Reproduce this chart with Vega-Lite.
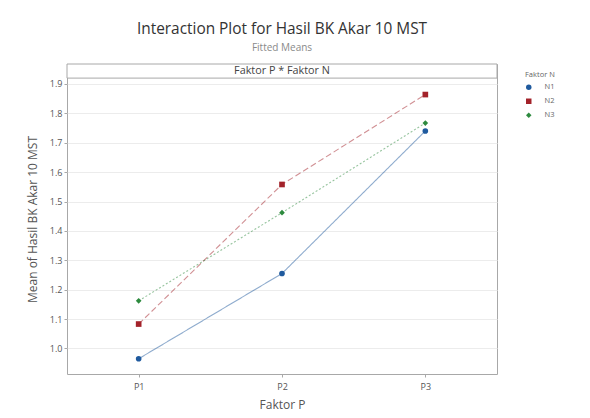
{
  "$schema": "https://vega.github.io/schema/vega-lite/v6.json",
  "autosize": {"type": "none"},
  "padding": {"left": 67, "top": 64, "right": 93, "bottom": 44},
  "width": 430,
  "height": 310,
  "background": "white",
  "title": {
    "text": "Interaction Plot for Hasil BK Akar 10 MST",
    "subtitle": "Fitted Means",
    "font": "Open Sans",
    "fontSize": 15.4,
    "fontWeight": "normal",
    "color": "#333333",
    "subtitleFont": "Open Sans",
    "subtitleFontSize": 10,
    "subtitleColor": "#8a8a8a",
    "subtitlePadding": 5,
    "offset": 11,
    "anchor": "middle",
    "frame": "group"
  },
  "config": {
    "font": "Open Sans",
    "view": {"stroke": "#a8a8a8", "strokeWidth": 1},
    "axis": {
      "gridColor": "#ececec",
      "gridWidth": 1,
      "domain": false,
      "tickColor": "#a8a8a8",
      "tickSize": 3,
      "labelColor": "#555555",
      "labelFontSize": 9,
      "labelOverlap": false,
      "titleColor": "#555555",
      "titleFontSize": 12,
      "titleFontWeight": "normal"
    },
    "legend": {
      "titleFontSize": 7.5,
      "titleFontWeight": "normal",
      "titleColor": "#666666",
      "titlePadding": 5,
      "labelFontSize": 7.5,
      "labelColor": "#666666",
      "labelOffset": 12,
      "rowPadding": 5,
      "symbolOpacity": 1,
      "symbolStrokeWidth": 0
    }
  },
  "layer": [
    {
      "data": {
        "values": [
          {"P": "P1", "N": "N1", "mean": 0.965},
          {"P": "P2", "N": "N1", "mean": 1.255},
          {"P": "P3", "N": "N1", "mean": 1.740},
          {"P": "P1", "N": "N2", "mean": 1.083},
          {"P": "P2", "N": "N2", "mean": 1.558},
          {"P": "P3", "N": "N2", "mean": 1.864},
          {"P": "P1", "N": "N3", "mean": 1.162},
          {"P": "P2", "N": "N3", "mean": 1.462},
          {"P": "P3", "N": "N3", "mean": 1.767}
        ]
      },
      "layer": [
        {
          "mark": {"type": "line", "strokeWidth": 1.1, "opacity": 0.5},
          "encoding": {
            "x": {
              "field": "P", "type": "ordinal",
              "scale": {"type": "point", "padding": 0.5},
              "axis": {"title": "Faktor P", "labelAngle": 0, "labelPadding": 5, "titlePadding": 8}
            },
            "y": {
              "field": "mean", "type": "quantitative",
              "scale": {"domain": [0.913, 1.968], "nice": false, "zero": false},
              "axis": {
                "title": "Mean of Hasil BK Akar 10 MST",
                "values": [1.0, 1.1, 1.2, 1.3, 1.4, 1.5, 1.6, 1.7, 1.8, 1.9],
                "format": ".1f",
                "titlePadding": 10
              }
            },
            "color": {
              "field": "N", "type": "nominal", "title": "Faktor N",
              "scale": {"domain": ["N1", "N2", "N3"], "range": ["#1f5a9e", "#a3222a", "#2d8a3e"]},
              "legend": {"title": "Faktor N", "orient": "none", "legendX": 458, "legendY": 7, "symbolSize": 30}
            },
            "strokeDash": {
              "field": "N", "type": "nominal",
              "scale": {"domain": ["N1", "N2", "N3"], "range": [[1, 0], [6, 3], [2, 2]]},
              "legend": null
            }
          }
        },
        {
          "mark": {"type": "point", "filled": true, "size": 32, "opacity": 1},
          "encoding": {
            "x": {"field": "P", "type": "ordinal"},
            "y": {
              "field": "mean", "type": "quantitative",
              "axis": {
                "title": "Mean of Hasil BK Akar 10 MST",
                "values": [1.0, 1.1, 1.2, 1.3, 1.4, 1.5, 1.6, 1.7, 1.8, 1.9],
                "format": ".1f",
                "titlePadding": 10
              }
            },
            "color": {
              "field": "N", "type": "nominal", "title": "Faktor N",
              "scale": {"domain": ["N1", "N2", "N3"], "range": ["#1f5a9e", "#a3222a", "#2d8a3e"]},
              "legend": {"title": "Faktor N", "orient": "none", "legendX": 458, "legendY": 7, "symbolSize": 30}
            },
            "shape": {
              "field": "N", "type": "nominal", "title": "Faktor N",
              "scale": {"domain": ["N1", "N2", "N3"], "range": ["circle", "square", "diamond"]},
              "legend": {"title": "Faktor N", "orient": "none", "legendX": 458, "legendY": 7, "symbolSize": 30}
            }
          }
        }
      ]
    },
    {
      "data": {"values": [{"label": "Faktor P * Faktor N", "col": "P2", "lo": 1.92, "hi": 1.968, "mid": 1.944}]},
      "layer": [
        {
          "mark": {"type": "rect", "fill": "white", "stroke": "#a8a8a8", "strokeWidth": 1},
          "encoding": {
            "y": {"field": "lo", "type": "quantitative",
              "axis": {
                "title": "Mean of Hasil BK Akar 10 MST",
                "values": [1.0, 1.1, 1.2, 1.3, 1.4, 1.5, 1.6, 1.7, 1.8, 1.9],
                "format": ".1f",
                "titlePadding": 10
              }},
            "y2": {"field": "hi"}
          }
        },
        {
          "mark": {"type": "text", "fontSize": 10.8, "fontWeight": "normal", "color": "#444444", "baseline": "middle"},
          "encoding": {
            "x": {"field": "col", "type": "ordinal"},
            "y": {"field": "mid", "type": "quantitative",
              "axis": {
                "title": "Mean of Hasil BK Akar 10 MST",
                "values": [1.0, 1.1, 1.2, 1.3, 1.4, 1.5, 1.6, 1.7, 1.8, 1.9],
                "format": ".1f",
                "titlePadding": 10
              }},
            "text": {"field": "label"}
          }
        }
      ]
    }
  ]
}
